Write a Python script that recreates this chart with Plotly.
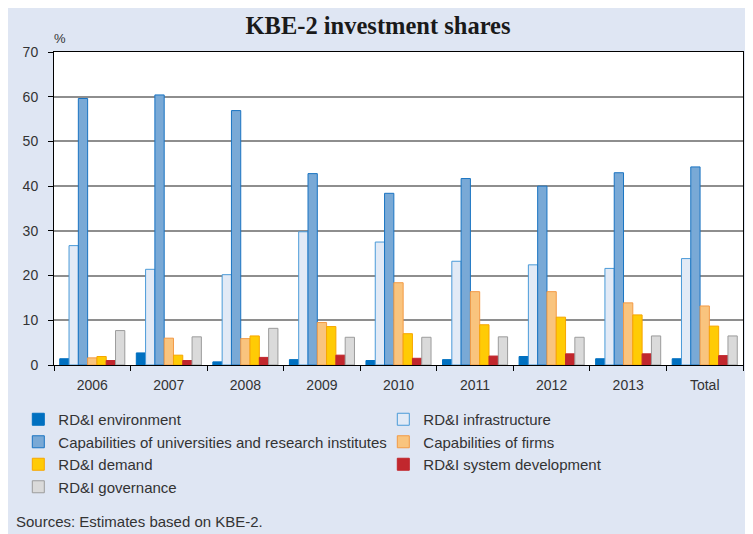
import plotly.graph_objects as go

categories = ["2006", "2007", "2008", "2009", "2010", "2011", "2012", "2013", "Total"]

rdi_environment = [1.4, 2.7, 0.7, 1.2, 1.0, 1.2, 1.9, 1.4, 1.4]
rdi_infrastructure = [26.7, 21.4, 20.2, 29.8, 27.5, 23.2, 22.4, 21.6, 23.8]
cap_universities = [59.6, 60.4, 56.9, 42.8, 38.4, 41.7, 40.0, 43.0, 44.3]
cap_firms = [1.6, 6.0, 5.9, 9.5, 18.4, 16.4, 16.4, 13.9, 13.2]
rdi_demand = [1.9, 2.2, 6.5, 8.6, 7.0, 9.0, 10.7, 11.2, 8.7]
rdi_system_dev = [1.0, 1.0, 1.7, 2.2, 1.5, 2.0, 2.5, 2.5, 2.1]
rdi_governance = [7.7, 6.3, 8.2, 6.2, 6.2, 6.3, 6.2, 6.5, 6.5]

y_ticks = [0, 10, 20, 30, 40, 50, 60, 70]

series = [
    ("RD&I environment", rdi_environment, "#0070C0", "#0070C0"),
    ("RD&I infrastructure", rdi_infrastructure, "#E2EAF6", "#4A9AD8"),
    ("Capabilities of universities and research institutes", cap_universities, "#79A9D6", "#1A74C2"),
    ("Capabilities of firms", cap_firms, "#F9C47E", "#F39A45"),
    ("RD&I demand", rdi_demand, "#FFCB05", "#F7A600"),
    ("RD&I system development", rdi_system_dev, "#C1272D", "#C1272D"),
    ("RD&I governance", rdi_governance, "#DADADA", "#9C9C9C"),
]

fig = go.Figure()
for name, vals, fill, line in series:
    fig.add_trace(go.Bar(
        name=name, x=categories, y=vals,
        marker=dict(color=fill, line=dict(color=line, width=1)),
    ))

# the page body has an 8px margin; the figure sits at (8, 8) in the window
W, H = 745, 526
L, R, T, B = 40, 10, 44, 169
pw, ph = W - L - R, H - T - B

def px_x(x):
    return (x - L) / pw

def px_y(y):
    return (H - B - y) / ph

BG = "#DFE6F3"
font_sans = "Liberation Sans, Arial, sans-serif"

fig.update_layout(
    width=W, height=H,
    margin=dict(l=L, r=R, t=T, b=B),
    paper_bgcolor=BG,
    plot_bgcolor="white",
    barmode="group",
    bargap=0.15,
    bargroupgap=0,
    font=dict(family=font_sans, size=14, color="#333333"),
    title=dict(
        text="<b>KBE-2 investment shares</b>",
        font=dict(family="Liberation Serif, Times New Roman, serif", size=24.5, color="#1a1a1a"),
        x=(370) / W, xanchor="center", xref="container",
        y=1 - 17.5 / H, yanchor="middle", yref="container",
    ),
    showlegend=True,
    legend=dict(
        orientation="h",
        x=px_x(4), xanchor="left",
        y=px_y(395), yanchor="top",
        entrywidth=320, entrywidthmode="pixels",
        font=dict(family=font_sans, size=15, color="#333333"),
        bgcolor="rgba(0,0,0,0)",
        traceorder="normal",
        tracegroupgap=0,
    ),
    xaxis=dict(
        type="category",
        showline=True, linecolor="black", linewidth=1, mirror=True,
        ticks="outside", tickson="boundaries", ticklen=5, tickcolor="black",
        showgrid=False,
        ticklabelstandoff=7,
        tickfont=dict(family=font_sans, size=14, color="#333333"),
    ),
    yaxis=dict(
        range=[0, 70],
        tickvals=y_ticks,
        showline=True, linecolor="black", linewidth=1, mirror=True,
        ticks="outside", ticklen=5, tickcolor="black",
        showgrid=True, gridcolor="#8E8E8E", gridwidth=1.5,
        zeroline=True, zerolinecolor="black", zerolinewidth=1,
        ticklabelstandoff=7,
        tickfont=dict(family=font_sans, size=14, color="#333333"),
    ),
    annotations=[
        dict(text="%", xref="paper", yref="paper", x=px_x(38), y=px_y(30),
             xanchor="left", yanchor="middle", showarrow=False,
             font=dict(family=font_sans, size=13, color="#333333")),
        dict(text="Sources: Estimates based on KBE-2.", xref="paper", yref="paper",
             x=px_x(0), y=px_y(513), xanchor="left", yanchor="middle", showarrow=False,
             font=dict(family=font_sans, size=15, color="#333333")),
    ],
)

fig.write_html("out.html")
